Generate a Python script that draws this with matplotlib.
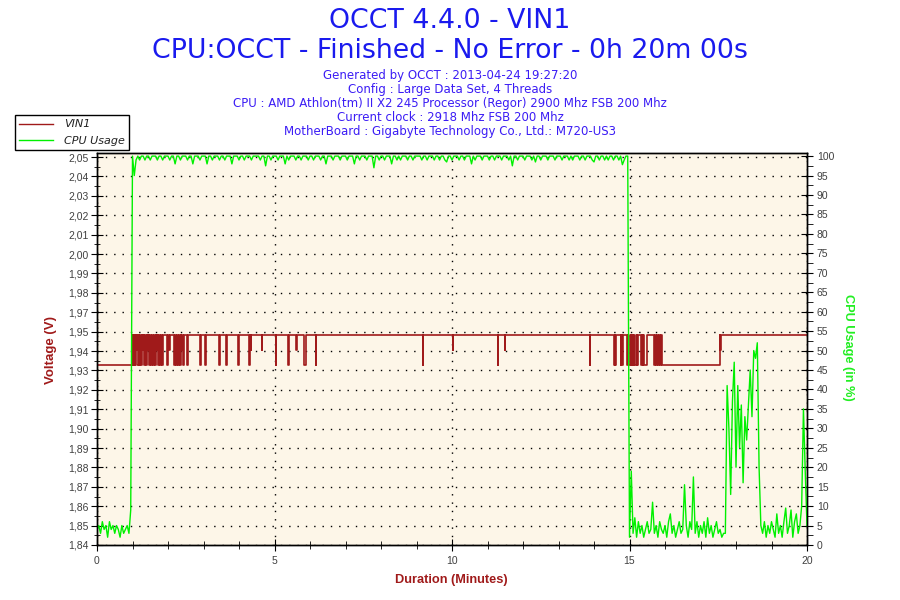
import matplotlib
matplotlib.use("Agg")
import matplotlib.pyplot as plt
from matplotlib.ticker import FixedLocator, FuncFormatter, MultipleLocator
from matplotlib.lines import Line2D
import numpy as np

# ---- data ----
title_main = "OCCT 4.4.0 - VIN1"
title_sub = "CPU:OCCT - Finished - No Error - 0h 20m 00s"
info_lines = [
    "Generated by OCCT : 2013-04-24 19:27:20",
    "Config : Large Data Set, 4 Threads",
    "CPU : AMD Athlon(tm) II X2 245 Processor (Regor) 2900 Mhz FSB 200 Mhz",
    "Current clock : 2918 Mhz FSB 200 Mhz",
    "MotherBoard : Gigabyte Technology Co., Ltd.: M720-US3",
]

# VIN1 levels (V)
VIN_HIGH = 1.953
VIN_MID = 1.945
VIN_LOW = 1.937

# periods where VIN1 leaves the high level: (start min, end min, level)
vin_dips = [
    (0.00, 1.00, VIN_LOW),
    (1.02, 1.04, VIN_LOW), (1.06, 1.08, VIN_LOW), (1.10, 1.12, VIN_MID),
    (1.13, 1.17, VIN_LOW), (1.19, 1.21, VIN_LOW), (1.23, 1.27, VIN_LOW),
    (1.29, 1.30, VIN_MID), (1.32, 1.36, VIN_LOW), (1.38, 1.41, VIN_LOW),
    (1.43, 1.44, VIN_MID), (1.46, 1.50, VIN_LOW), (1.52, 1.55, VIN_LOW),
    (1.58, 1.60, VIN_LOW), (1.62, 1.66, VIN_LOW), (1.68, 1.70, VIN_MID),
    (1.72, 1.76, VIN_LOW), (1.78, 1.80, VIN_LOW), (1.82, 1.85, VIN_LOW),
    (1.97, 2.00, VIN_LOW), (2.03, 2.05, VIN_MID), (2.16, 2.20, VIN_LOW),
    (2.22, 2.26, VIN_LOW), (2.28, 2.31, VIN_LOW), (2.33, 2.36, VIN_LOW),
    (2.38, 2.40, VIN_MID), (2.42, 2.44, VIN_LOW), (2.53, 2.55, VIN_LOW),
    (2.90, 2.92, VIN_LOW), (3.05, 3.06, VIN_LOW), (3.45, 3.47, VIN_LOW),
    (3.64, 3.65, VIN_LOW), (3.98, 4.01, VIN_LOW), (4.28, 4.30, VIN_LOW),
    (4.34, 4.35, VIN_MID), (4.64, 4.65, VIN_MID), (5.03, 5.05, VIN_LOW),
    (5.39, 5.40, VIN_LOW), (5.61, 5.62, VIN_MID), (5.84, 5.88, VIN_LOW),
    (6.16, 6.18, VIN_LOW), (9.18, 9.19, VIN_LOW), (10.02, 10.03, VIN_MID),
    (11.29, 11.30, VIN_LOW), (11.49, 11.50, VIN_MID), (13.89, 13.90, VIN_LOW),
    (14.56, 14.58, VIN_LOW), (14.60, 14.62, VIN_LOW), (14.75, 14.77, VIN_LOW),
    (14.80, 14.82, VIN_LOW), (14.93, 14.97, VIN_LOW), (14.99, 15.03, VIN_LOW),
    (15.05, 15.09, VIN_LOW), (15.11, 15.14, VIN_LOW), (15.16, 15.20, VIN_LOW),
    (15.22, 15.25, VIN_LOW), (15.32, 15.35, VIN_LOW), (15.37, 15.39, VIN_LOW),
    (15.42, 15.48, VIN_LOW), (15.69, 15.72, VIN_LOW), (15.74, 15.78, VIN_LOW),
    (15.80, 15.84, VIN_LOW), (15.86, 15.89, VIN_LOW), (15.91, 17.55, VIN_LOW),
    (17.55, 17.59, VIN_MID),
]

# CPU usage (%), one sample every 0.05 min
cpu_step = 0.05
cpu_idle_start = [4, 5, 3, 6, 4, 5, 2, 6, 4, 5, 3, 5, 4, 2, 5, 3, 4, 5, 3, 9]  # 0.00 - 0.95
cpu_load = [  # 1.00 - 14.95
    100, 95, 99, 100, 99, 100, 100, 99, 100, 100, 99, 100, 100, 100, 99, 100, 100, 99, 100, 100,
    100, 99, 100, 100, 98, 100, 100, 99, 100, 100, 100, 99, 100, 100, 98, 100, 100, 100, 99, 100,
    100, 100, 98, 100, 100, 99, 100, 100, 100, 99, 100, 100, 99, 100, 100, 100, 98, 100, 100, 100,
    99, 100, 100, 99, 100, 100, 100, 99, 100, 100, 100, 100, 99, 100, 100, 97.5, 100, 100, 99, 100,
    100, 100, 99, 100, 100, 100, 98, 100, 99, 100, 100, 100, 99, 100, 100, 99, 100, 100, 100, 99,
    100, 100, 99, 100, 100, 100, 99, 100, 100, 98, 100, 100, 100, 99, 100, 100, 100, 99, 100, 100,
    100, 99, 100, 100, 100, 98, 100, 100, 99, 100, 100, 100, 99, 100, 100, 100, 97, 100, 100, 99,
    100, 100, 99, 100, 100, 100, 98, 100, 100, 99, 100, 99, 100, 100, 100, 99, 100, 100, 99, 100,
    100, 100, 100, 99, 100, 100, 99, 100, 100, 100, 99, 100, 100, 99, 100, 100, 99, 98.5, 100, 100,
    99, 100, 100, 100, 99, 100, 100, 99, 100, 100, 100, 98, 100, 99, 100, 100, 100, 99, 100, 100,
    100, 99, 100, 100, 99, 100, 100, 100, 99, 100, 100, 100, 99, 100, 97.5, 100, 100, 99, 100, 100,
    100, 99, 100, 100, 100, 99, 100, 98.5, 100, 100, 99, 100, 100, 100, 99, 100, 100, 100, 99, 100,
    100, 100, 99, 100, 100, 100, 99, 100, 99, 100, 100, 100, 99, 100, 100, 99, 100, 100, 100, 99,
    98.5, 100, 100, 99, 100, 100, 99, 100, 99, 100, 100, 99, 100, 100, 99, 100, 97.8, 99, 100, 100,
]
cpu_after = [  # 15.00 - 20.00
    2, 19, 3, 7, 2, 6, 3, 5, 2, 4, 6, 3, 4, 11, 3, 5, 2, 6, 4, 3,
    5, 2, 6, 8, 3, 5, 2, 4, 6, 3, 4, 15.5, 5, 2, 6, 4, 17.5, 3, 6, 2,
    5, 3, 6, 2, 7, 3, 5, 2, 4, 6, 3, 4, 2, 3, 3, 41, 30, 13, 37, 47,
    20, 41, 25, 36, 16, 33, 27, 36, 45, 33, 50, 48, 52, 20, 5, 3, 6, 2, 5, 3,
    6, 4, 2, 8, 3, 5, 2, 6, 9.5, 3, 5, 9, 2, 6, 8, 3, 5, 10, 35, 19,
    5,
]

# axis settings taken from the chart
x_max = 20
volt_min, volt_max = 1.84, 2.0508
volt_tick_step = 0.01043
cpu_max = 100.8

# ---- build series ----
vin_t, vin_v = [], []
for a, b, lvl in vin_dips:
    vin_t += [a, b]
    vin_v += [lvl, VIN_HIGH]
vin_t.append(x_max)
vin_v.append(VIN_HIGH)

cpu_v = np.array(cpu_idle_start + cpu_load + cpu_after, dtype=float)
cpu_t = np.arange(len(cpu_v)) * cpu_step

# ---- colours ----
blue_title = "#1a1aee"
blue_info = "#3b1cf5"
red = "#a01a1a"
green = "#00f000"
tick_grey = "#404040"
bg = "#fdf6e8"
label_font = "Liberation Sans"

fig = plt.figure(figsize=(9, 6), dpi=100)
ax = fig.add_axes([97 / 900, 55 / 600, 710 / 900, 392 / 600])
ax2 = ax.twinx()

ax.set_facecolor(bg)
ax.plot(vin_t, vin_v, color=red, lw=1.2, drawstyle="steps-post")
ax2.plot(cpu_t, cpu_v, color=green, lw=1.0)

ax.set_xlim(0, x_max)
ax.set_ylim(volt_min, volt_max)
ax2.set_ylim(0, cpu_max)

vticks = [volt_min + k * volt_tick_step for k in range(21)]
ax.yaxis.set_major_locator(FixedLocator(vticks))
ax.yaxis.set_major_formatter(FuncFormatter(lambda v, p: f"{v:.2f}".replace(".", ",")))
ax.yaxis.set_minor_locator(FixedLocator([v + volt_tick_step / 2 for v in vticks]))
ax.xaxis.set_major_locator(MultipleLocator(5))
ax.xaxis.set_minor_locator(MultipleLocator(1))
ax2.yaxis.set_major_locator(MultipleLocator(5))
ax2.yaxis.set_minor_locator(MultipleLocator(2.5))

ax.grid(True, which="major", color="black", linestyle=(0, (1, 5)), linewidth=1)
ax.set_axisbelow(True)

for a in (ax, ax2):
    for s in a.spines.values():
        s.set_color("black")
        s.set_linewidth(1)

ax.tick_params(axis="y", which="major", direction="inout", length=8, labelsize=7.5,
               labelcolor=tick_grey, pad=2)
ax.tick_params(axis="y", which="minor", direction="inout", length=5)
ax.tick_params(axis="x", which="major", direction="inout", length=8, labelsize=7.5,
               labelcolor=tick_grey, pad=4)
ax.tick_params(axis="x", which="minor", direction="inout", length=6)
ax2.tick_params(axis="y", which="major", direction="inout", length=8, labelsize=7.5,
                labelcolor=tick_grey, pad=3)
ax2.tick_params(axis="y", which="minor", direction="out", length=4)
for lab in ax.get_xticklabels() + ax.get_yticklabels() + ax2.get_yticklabels():
    lab.set_fontfamily(label_font)

# titles and info text
fig.text(0.5, 1 - 21 / 600, title_main, ha="center", va="center", fontsize=19.3, color=blue_title)
fig.text(0.5, 1 - 51 / 600, title_sub, ha="center", va="center", fontsize=19.3, color=blue_title)
for i, line in enumerate(info_lines):
    fig.text(0.5, 1 - (76 + i * 13.8) / 600, line, ha="center", va="center",
             fontsize=8.5, color=blue_info)

# axis labels
fig.text(51 / 900, 1 - 350 / 600, "Voltage (V)", rotation=90, ha="center", va="center",
         fontsize=9.5, fontweight="bold", color=red, family=label_font)
fig.text(848 / 900, 1 - 347 / 600, "CPU Usage (in %)", rotation=-90, ha="center", va="center",
         fontsize=9.2, fontweight="bold", color="#22ee22", family=label_font)
fig.text(451 / 900, 1 - 580 / 600, "Duration (Minutes)", ha="center", va="center",
         fontsize=9.2, fontweight="bold", color=red, family=label_font)

# legend
handles = [Line2D([], [], color=red, lw=1), Line2D([], [], color=green, lw=1)]
leg = fig.legend(handles, ["VIN1", "CPU Usage"], loc="upper left",
                 bbox_to_anchor=(15 / 900, 1 - 115 / 600), borderaxespad=0,
                 fancybox=False, framealpha=1, edgecolor="black",
                 prop={"style": "italic", "size": 8}, handlelength=3.0,
                 borderpad=0.4, labelspacing=0.55, handletextpad=1.0)
leg.get_frame().set_linewidth(1)
for t in leg.get_texts():
    t.set_color("#222222")

fig.savefig("out.png", dpi=100)
